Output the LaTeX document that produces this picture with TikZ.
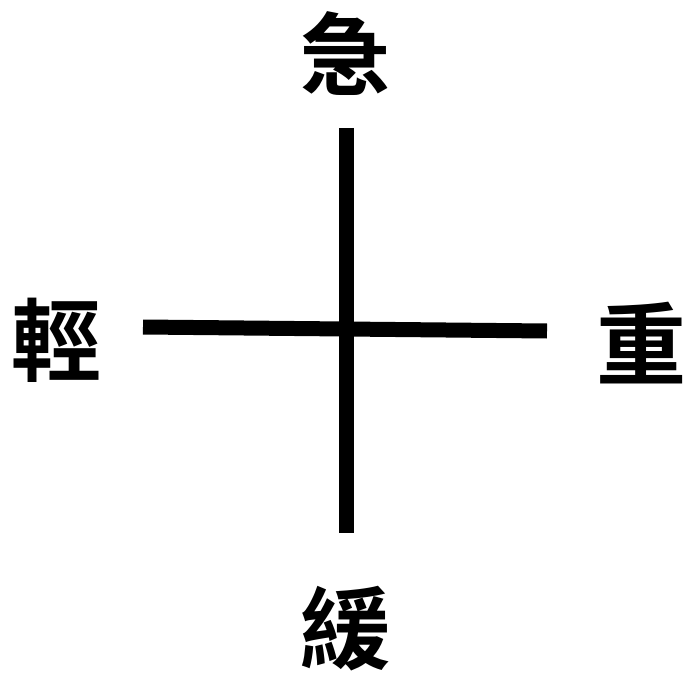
\documentclass[tikz,border=0pt]{standalone}
\usepackage{fontspec}
\newfontfamily\cjk{Noto Sans CJK TC}[BoldFont={Noto Sans CJK TC Bold}]
\begin{document}
\begin{tikzpicture}[
    x=1pt, y=-1pt,
    axis/.style={draw, line width=15pt},
    word/.style={font=\cjk\bfseries\fontsize{90}{90}\selectfont, inner sep=0pt}
]
\useasboundingbox (0,0) rectangle (686,674);
\coordinate (top) at (346,128);
\coordinate (bottom) at (346,533);
\coordinate (left) at (143,327);
\coordinate (right) at (547,331);
\draw[axis] (top) -- (bottom);
\draw[axis] (left) -- (right);
\node[word] (ji) at (345,54) {急};
\node[word] (huan) at (345,629) {緩};
\node[word] (qing) at (56,340) {輕};
\node[word] (zhong) at (641,343) {重};
\end{tikzpicture}
\end{document}
